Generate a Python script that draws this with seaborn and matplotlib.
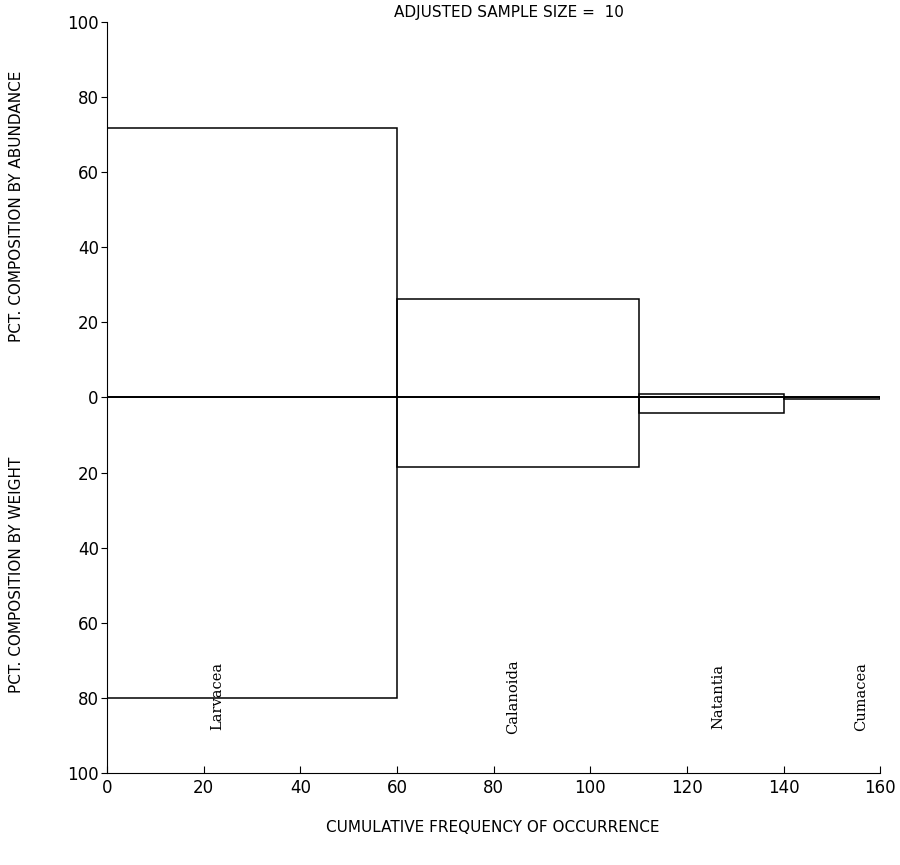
import numpy as np
import matplotlib
matplotlib.use("Agg")
import matplotlib.pyplot as plt
import seaborn as sns

# taxa in order of cumulative frequency
taxa = ["Larvacea", "Calanoida", "Natantia", "Cumacea"]
occurrence = [60, 50, 30, 20]          # frequency of occurrence (bar width)
abundance = [71.6, 26.3, 1.0, 0.2]     # pct composition by abundance (up)
weight = [80.0, 18.5, 4.0, 0.3]        # pct composition by weight (down)
y_ticks = [-100, -80, -60, -40, -20, 0, 20, 40, 60, 80, 100]
x_ticks = [0, 20, 40, 60, 80, 100, 120, 140, 160]

sns.set_style("ticks", {"axes.edgecolor": "black", "text.color": "black",
                        "xtick.color": "black", "ytick.color": "black",
                        "axes.labelcolor": "black"})
plt.rcParams["font.family"] = ["DejaVu Sans"]

starts = np.concatenate([[0], np.cumsum(occurrence)[:-1]])
# where the taxon name sits inside each box (fraction of box width)
label_frac = [0.38, 0.48, 0.55, 0.8]

fig = plt.figure(figsize=(9, 8.65), dpi=100)
ax = fig.add_axes([0.119, 0.106, 0.859, 0.869])

# abundance boxes above zero, weight boxes below
ax.bar(starts, abundance, width=occurrence, align="edge", fill=False,
       edgecolor="black", linewidth=1.1)
ax.bar(starts, -np.array(weight), width=occurrence, align="edge", fill=False,
       edgecolor="black", linewidth=1.1)
ax.axhline(0, color="black", linewidth=1.1)

for s, w, f, name in zip(starts, occurrence, label_frac, taxa):
    ax.text(s + w * f, -79.5, name, rotation=90, ha="center", va="center",
            fontsize=10.5, family="DejaVu Serif", color="black")

ax.set_xlim(0, 160)
ax.set_ylim(-100, 100)
ax.set_xticks(x_ticks)
ax.set_xticklabels([str(t) for t in x_ticks], fontsize=12)
ax.set_yticks(y_ticks)
ax.set_yticklabels([str(abs(t)) for t in y_ticks], fontsize=12)
ax.tick_params(axis="x", direction="in", length=5, pad=4)
ax.tick_params(axis="y", direction="out", length=4, pad=2)
sns.despine(ax=ax)

fig.text(0.565, 0.986, "ADJUSTED SAMPLE SIZE =  10", ha="center", va="center",
         fontsize=11)
fig.text(0.548, 0.043, "CUMULATIVE FREQUENCY OF OCCURRENCE", ha="center",
         va="center", fontsize=11)
fig.text(0.018, 0.762, "PCT. COMPOSITION BY ABUNDANCE", rotation=90,
         ha="center", va="center", fontsize=11)
fig.text(0.018, 0.335, "PCT. COMPOSITION BY WEIGHT", rotation=90,
         ha="center", va="center", fontsize=11)

fig.savefig("out.png", dpi=100)
